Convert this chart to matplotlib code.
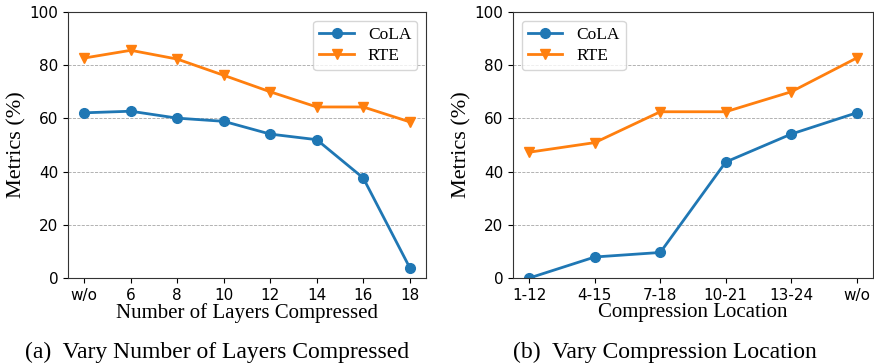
import matplotlib
matplotlib.use("Agg")
import matplotlib.pyplot as plt

# (a) number of layers compressed
layers_labels = ["w/o", "6", "8", "10", "12", "14", "16", "18"]
layers_cola = [62.1, 62.7, 60.1, 58.9, 54.1, 52.0, 37.6, 3.9]
layers_rte = [82.7, 85.6, 82.3, 76.2, 70.0, 64.3, 64.3, 58.7]

# (b) compression location
loc_labels = ["1-12", "4-15", "7-18", "10-21", "13-24", "w/o"]
loc_cola = [0.0, 7.9, 9.6, 43.6, 54.1, 62.1]
loc_rte = [47.3, 50.9, 62.5, 62.5, 70.0, 82.7]

serif = "Liberation Serif"

fig = plt.figure(figsize=(8.74, 3.64), dpi=100)
ax1 = fig.add_axes([68 / 874, 1 - 278 / 364, 358 / 874, 266 / 364])
ax2 = fig.add_axes([513 / 874, 1 - 278 / 364, 360 / 874, 266 / 364])


def draw(ax, labels, cola, rte, xlabel, legend_loc):
    x = list(range(len(labels)))
    ax.plot(x, cola, marker="o", color="#1f77b4", lw=2, ms=7, label="CoLA")
    ax.plot(x, rte, marker="v", color="#ff7f0e", lw=2, ms=7, label="RTE")
    ax.set_ylim(0, 100)
    ax.set_xticks(x)
    ax.set_xticklabels(labels)
    ax.tick_params(labelsize=11)
    for s in ax.spines.values():
        s.set_color("#333333")
    ax.yaxis.grid(True, ls="--", color="gray", lw=0.6, alpha=0.7)
    ax.set_axisbelow(True)
    ax.set_ylabel("Metrics (%)", family=serif, fontsize=16, labelpad=2)
    ax.set_xlabel(xlabel, family=serif, fontsize=15, labelpad=0)
    ax.legend(loc=legend_loc, prop={"family": serif, "size": 12.5},
              handlelength=2.0, borderpad=0.35, labelspacing=0.3)


draw(ax1, layers_labels, layers_cola, layers_rte, "Number of Layers Compressed", "upper right")
draw(ax2, loc_labels, loc_cola, loc_rte, "Compression Location", "upper left")

fig.text(217 / 874, 1 - 352 / 364, "(a)  Vary Number of Layers Compressed",
         family=serif, fontsize=17, ha="center", va="center")
fig.text(665 / 874, 1 - 352 / 364, "(b)  Vary Compression Location",
         family=serif, fontsize=17, ha="center", va="center")

fig.savefig("out.png", dpi=100)
